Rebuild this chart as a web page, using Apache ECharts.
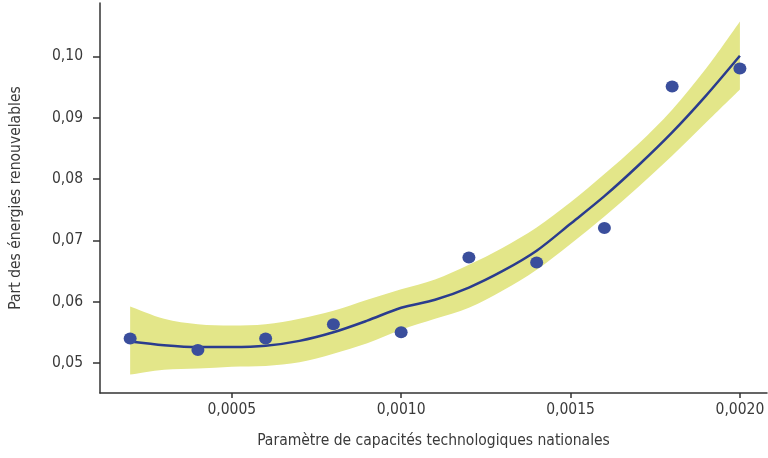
<!DOCTYPE html>
<html>
<head>
<meta charset="utf-8">
<script src="https://cdn.jsdelivr.net/npm/echarts@6/dist/echarts.min.js"></script>
<style>
  html, body { margin: 0; padding: 0; background: #fff; }
  #chart { width: 768px; height: 458px; }
</style>
</head>
<body>
<div id="chart"></div>
<script>
// observed points
var pointX = [0.0002, 0.0004, 0.0006, 0.0008, 0.0010, 0.0012, 0.0014, 0.0016, 0.0018, 0.0020]
var pointY = [0.0540, 0.0521, 0.0540, 0.0563, 0.0550, 0.0672, 0.0664, 0.0720, 0.0951, 0.0980]

// fitted curve and confidence band
var fitX = [0.0002, 0.0003, 0.0004, 0.0005, 0.0006, 0.0007, 0.0008, 0.0009, 0.0010, 0.0011,
  0.0012, 0.0013, 0.0014, 0.0015, 0.0016, 0.0017, 0.0018, 0.0019, 0.0020]
var fitY = [0.0535, 0.0529, 0.0526, 0.0526, 0.0528, 0.0536, 0.0550, 0.0569, 0.0590, 0.0603,
  0.0623, 0.0650, 0.0683, 0.0727, 0.0772, 0.0822, 0.0876, 0.0936, 0.1001]
var bandUpper = [0.0592, 0.0572, 0.0563, 0.0561, 0.0563, 0.0572, 0.0585, 0.0603, 0.0620, 0.0636,
  0.0660, 0.0688, 0.0721, 0.0762, 0.0808, 0.0857, 0.0913, 0.0980, 0.1057]
var bandLower = [0.0481, 0.0489, 0.0491, 0.0494, 0.0495, 0.0501, 0.0515, 0.0532, 0.0554, 0.0572,
  0.0590, 0.0618, 0.0652, 0.0694, 0.0739, 0.0787, 0.0838, 0.0892, 0.0946]

// tick labels
var xTicks = [0.0005, 0.0010, 0.0015, 0.0020]
var yTicks = [0.05, 0.06, 0.07, 0.08, 0.09, 0.10]

var font = "'DejaVu Sans Condensed', 'Liberation Sans Narrow', sans-serif"
var textColor = '#3a3a3a'
var axisColor = '#333'

function pairs(xs, ys) {
  return xs.map(function(x, i) { return [x, ys[i]] })
}

// catmull-rom through screen points -> bezier path commands
function curveThrough(pts, first) {
  var d = first ? 'M' + pts[0][0] + ',' + pts[0][1] : 'L' + pts[0][0] + ',' + pts[0][1]
  for (var i = 0; i < pts.length - 1; i++) {
    var p0 = pts[i - 1] || pts[i]
    var p1 = pts[i]
    var p2 = pts[i + 1]
    var p3 = pts[i + 2] || p2
    var c1x = p1[0] + (p2[0] - p0[0]) / 6
    var c1y = p1[1] + (p2[1] - p0[1]) / 6
    var c2x = p2[0] - (p3[0] - p1[0]) / 6
    var c2y = p2[1] - (p3[1] - p1[1]) / 6
    d += 'C' + c1x + ',' + c1y + ',' + c2x + ',' + c2y + ',' + p2[0] + ',' + p2[1]
  }
  return d
}

function renderBand(params, api) {
  if (params.dataIndex !== 0) return
  var upper = fitX.map(function(x, i) { return api.coord([x, bandUpper[i]]) })
  var lower = fitX.map(function(x, i) { return api.coord([x, bandLower[i]]) }).reverse()
  return {
    type: 'path',
    shape: { pathData: curveThrough(upper, true) + curveThrough(lower, false) + 'Z' },
    style: { fill: '#e3e689', stroke: null }
  }
}

var chart = echarts.init(document.getElementById('chart'))
chart.setOption({
  animation: false,
  backgroundColor: '#fff',
  grid: {
    left: 99,
    right: 1,
    top: 3,
    bottom: 65
  },
  xAxis: {
    type: 'value',
    min: 0.000111,
    max: 0.00208,
    name: 'Paramètre de capacités technologiques nationales',
    nameLocation: 'middle',
    nameGap: 40,
    nameTextStyle: { color: textColor, fontSize: 15.5, fontFamily: font },
    axisLine: { show: true, lineStyle: { color: axisColor, width: 1.5 } },
    axisTick: { show: true, length: 5, customValues: xTicks, lineStyle: { color: axisColor, width: 1.5 } },
    axisLabel: {
      customValues: xTicks,
      margin: 9,
      color: textColor,
      fontSize: 15.5,
      fontFamily: font,
      formatter: function(v) { return v.toFixed(4).replace('.', ',') }
    },
    splitLine: { show: false }
  },
  yAxis: {
    type: 'value',
    min: 0.0451,
    max: 0.1087,
    name: 'Part des énergies renouvelables',
    nameLocation: 'middle',
    nameGap: 76,
    nameTextStyle: { color: textColor, fontSize: 15.5, fontFamily: font },
    axisLine: { show: true, lineStyle: { color: axisColor, width: 1.5 } },
    axisTick: { show: true, length: 7, customValues: yTicks, lineStyle: { color: axisColor, width: 1.5 } },
    axisLabel: {
      customValues: yTicks,
      margin: 17,
      color: textColor,
      fontSize: 15.5,
      fontFamily: font,
      formatter: function(v) { return v.toFixed(2).replace('.', ',') }
    },
    splitLine: { show: false }
  },
  series: [
    {
      name: 'band',
      type: 'custom',
      renderItem: renderBand,
      clip: false,
      silent: true,
      data: pairs(fitX, bandUpper),
      z: 1
    },
    {
      name: 'fit',
      type: 'line',
      smooth: 0.3,
      symbol: 'none',
      lineStyle: { color: '#2a3c8e', width: 2.5 },
      data: pairs(fitX, fitY),
      z: 2
    },
    {
      name: 'points',
      type: 'scatter',
      symbolSize: [13, 12],
      itemStyle: { color: '#3a4e9c', opacity: 1 },
      data: pairs(pointX, pointY),
      z: 3
    }
  ]
})
</script>
</body>
</html>
